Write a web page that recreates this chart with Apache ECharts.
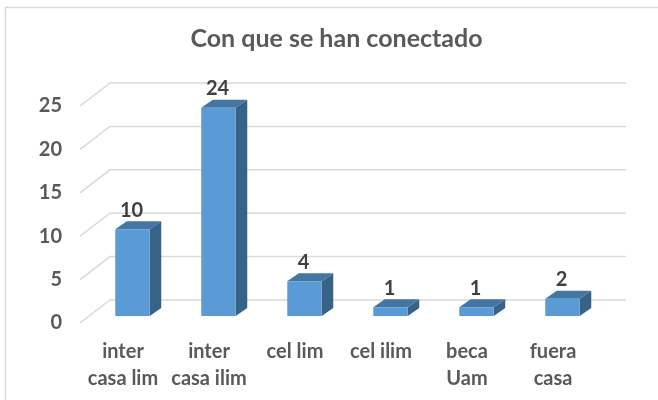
<!DOCTYPE html>
<html>
<head>
<meta charset="utf-8">
<style>
  html, body { margin: 0; padding: 0; background: #fff; }
  #chart { width: 658px; height: 400px; }
</style>
<script src="https://cdn.jsdelivr.net/npm/echarts@6/dist/echarts.min.js"></script>
</head>
<body>
<div id="chart"></div>
<script>
const categories = ["inter\ncasa lim", "inter\ncasa ilim", "cel lim", "cel ilim", "beca\nUam", "fuera\ncasa"];
const values = [10, 24, 4, 1, 1, 2];
const yTicks = [0, 5, 10, 15, 20, 25];

const textFont = "Lato";
const wallDx = 30, wallDy = -23;   // fondo del grafico respecto al plano frontal
const barDx = 9.5, barDy = -7;     // cara frontal de la barra
const depthDx = 11.5, depthDy = -8;
const barW = 34.5;

const chart = echarts.init(document.getElementById("chart"));

const option = {
  backgroundColor: "#fff",
  animation: false,
  title: {
    text: "Con que se han conectado",
    left: 331.5,
    top: 21,
    textAlign: "center",
    textStyle: { color: "#595959", fontFamily: textFont, fontSize: 25, fontWeight: "bold" },
  },
  grid: { left: 80, right: 62, top: 106, bottom: 77 },
  xAxis: {
    type: "category",
    data: categories,
    axisLine: { show: false },
    axisTick: { show: false },
    axisLabel: {
      color: "#595959",
      fontFamily: textFont,
      fontSize: 20,
      fontWeight: "bold",
      lineHeight: 27,
      margin: 15,
      interval: 0,
    },
  },
  yAxis: {
    type: "value",
    min: 0,
    max: 25,
    interval: 5,
    splitLine: { show: false },
    axisLine: { show: false },
    axisTick: { show: false },
    axisLabel: {
      color: "#595959",
      fontFamily: textFont,
      fontSize: 20,
      fontWeight: "bold",
      margin: 18,
      padding: [3, 0, 0, 0],
    },
  },
  series: [
    {
      // lineas de la pared de fondo y diagonales del piso
      type: "custom",
      coordinateSystem: "cartesian2d",
      z: 1,
      silent: true,
      encode: { y: 0 },
      data: yTicks.map((t) => [t]),
      renderItem(params, api) {
        const cs = params.coordSys;
        const y = api.coord([0, api.value(0)])[1];
        const style = { stroke: "#d9d9d9", lineWidth: 1.5, fill: null };
        return {
          type: "polyline",
          shape: {
            points: [
              [cs.x, y],
              [cs.x + wallDx, y + wallDy],
              [cs.x + cs.width + wallDx, y + wallDy],
            ],
          },
          style,
        };
      },
    },
    {
      type: "custom",
      coordinateSystem: "cartesian2d",
      z: 2,
      silent: true,
      encode: { x: 0, y: 1 },
      data: values.map((v, i) => [i, v]),
      renderItem(params, api) {
        const top = api.coord([api.value(0), api.value(1)]);
        const base = api.coord([api.value(0), 0]);
        const x0 = top[0] + barDx - barW / 2;
        const x1 = x0 + barW;
        const yt = top[1] + barDy;
        const yb = base[1] + barDy;
        return {
          type: "group",
          children: [
            {
              type: "polygon",
              shape: { points: [[x1, yt], [x1 + depthDx, yt + depthDy], [x1 + depthDx, yb + depthDy], [x1, yb]] },
              style: { fill: "#376387" },
            },
            {
              type: "polygon",
              shape: { points: [[x0, yt], [x0 + depthDx, yt + depthDy], [x1 + depthDx, yt + depthDy], [x1, yt]] },
              style: { fill: "#4376a3" },
            },
            {
              type: "rect",
              shape: { x: x0, y: yt, width: barW, height: yb - yt },
              style: { fill: "#5b9bd5" },
            },
            {
              type: "text",
              style: {
                x: (x0 + x1) / 2 - 1,
                y: yt - 19,
                text: String(api.value(1)),
                fill: "#404040",
                font: "bold 20px " + textFont,
                textAlign: "center",
                textVerticalAlign: "middle",
              },
            },
          ],
        };
      },
    },
  ],
  graphic: [
    {
      type: "polyline",
      silent: true,
      shape: { points: [[5.5, 400], [5.5, 7.5], [658, 7.5]] },
      style: { stroke: "#d9d9d9", lineWidth: 1.5, fill: null },
    },
  ],
};

chart.setOption(option);
</script>
</body>
</html>
